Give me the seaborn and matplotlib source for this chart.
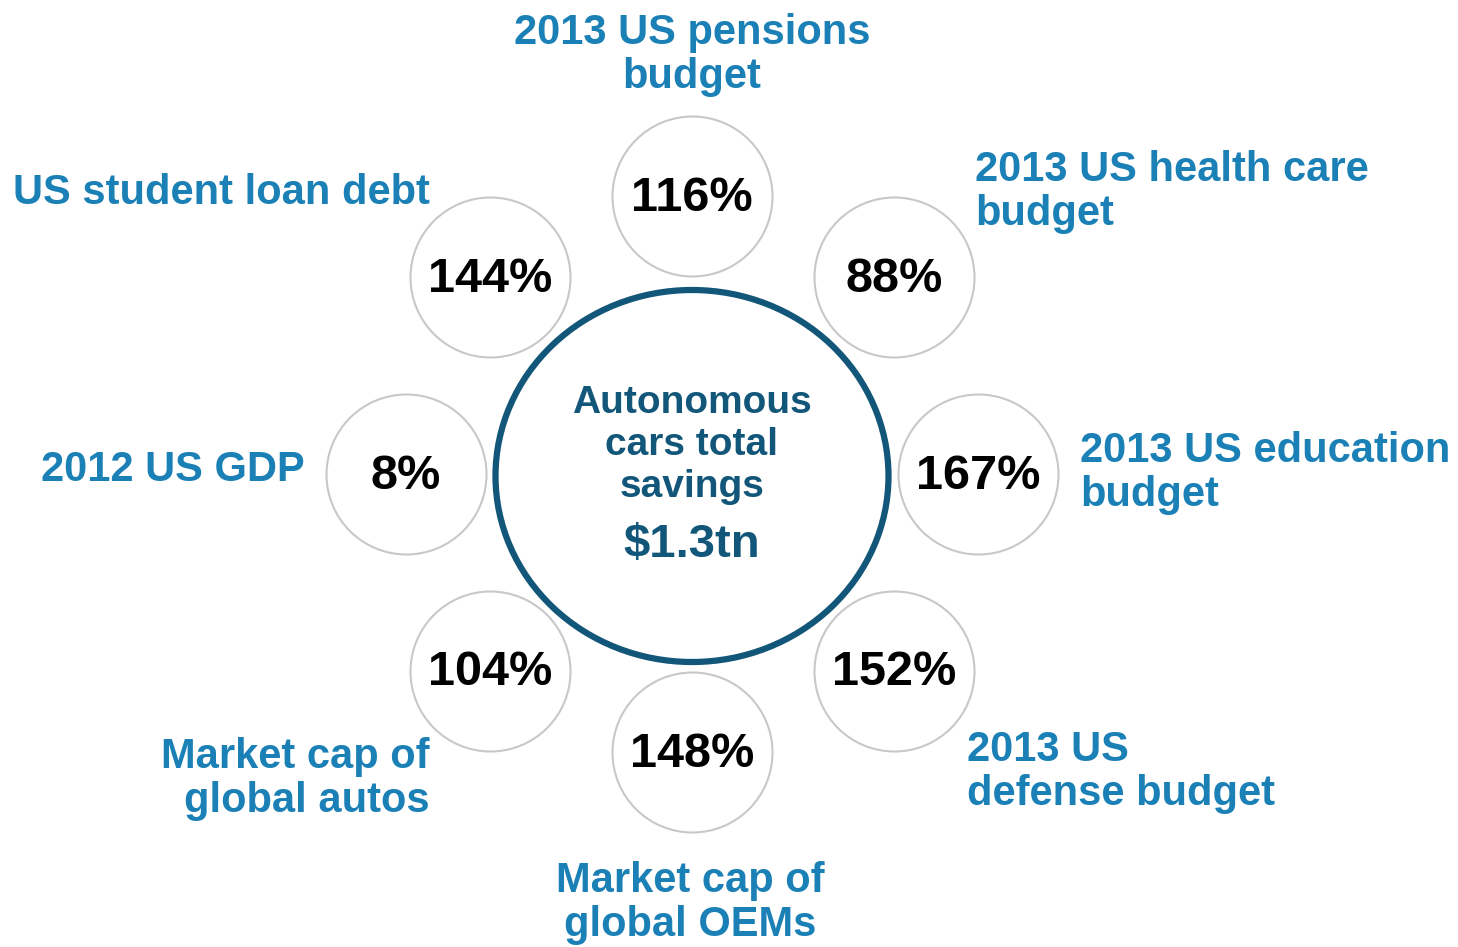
import numpy as np
import pandas as pd
import matplotlib
matplotlib.use("Agg")
import matplotlib.pyplot as plt
import seaborn as sns
from matplotlib.patches import Ellipse

# ---- data ----
categories = [
    "2013 US pensions\nbudget",
    "2013 US health care\nbudget",
    "2013 US education\nbudget",
    "2013 US\ndefense budget",
    "Market cap of\nglobal OEMs",
    "Market cap of\nglobal autos",
    "2012 US GDP",
    "US student loan debt",
]
percentages = [116, 88, 167, 152, 148, 104, 8, 144]
center_title = "Autonomous\ncars total\nsavings"
total_savings_tn = 1.3

# ---- style ----
sns.set_theme(style="white")
plt.rcParams["font.family"] = ["Liberation Sans", "DejaVu Sans"]
LABEL_COLOR = "#1a80b6"
CENTER_COLOR = "#12567a"
RING_COLOR = "#c8c8c8"

W, H = 1458, 947
fig = plt.figure(figsize=(W / 100, H / 100), dpi=100)
ax = fig.add_axes([0, 0, 1, 1])
ax.set_xlim(0, W)
ax.set_ylim(H, 0)
ax.set_axis_off()

cx, cy = 692, 476
ring_cy = 474
rx, ry = 286, 278
angles = np.deg2rad(90 - 45 * np.arange(len(percentages)))
df = pd.DataFrame({
    "label": categories,
    "pct": percentages,
    "x": cx + rx * np.cos(angles),
    "y": ring_cy - ry * np.sin(angles),
})

# small circles through seaborn scatter (diameter 160 px)
d_pt = 160 * 72 / 100
sns.scatterplot(data=df, x="x", y="y", s=d_pt ** 2, marker="o",
                color="white", edgecolor=RING_COLOR, linewidth=1.5,
                ax=ax, legend=False, zorder=2)
for _, r in df.iterrows():
    ax.text(r["x"], r["y"] + 2, f"{r['pct']}%", ha="center", va="center",
            fontsize=35, fontweight="bold", color="black", zorder=3)

# center ellipse
ax.add_patch(Ellipse((cx, cy), 393, 372, facecolor="white",
                     edgecolor=CENTER_COLOR, linewidth=4.5, zorder=2))
ax.text(cx, 445, center_title, ha="center", va="center", fontsize=28,
        fontweight="bold", color=CENTER_COLOR, linespacing=1.22, zorder=3)
ax.text(cx, 545, f"${total_savings_tn}tn", ha="center", va="center",
        fontsize=34, fontweight="bold", color=CENTER_COLOR, zorder=3)

# outer labels: (x, y, ha)
label_pos = [
    (692, 55, "center"),
    (975, 192, "left"),
    (1080, 473, "left"),
    (967, 772, "left"),
    (690, 903, "center"),
    (430, 779, "right"),
    (305, 470, "right"),
    (430, 193, "right"),
]
for lab, (lx, ly, ha) in zip(categories, label_pos):
    ax.text(lx, ly, lab, ha=ha, va="center", fontsize=30, fontweight="bold",
            color=LABEL_COLOR, linespacing=1.1, zorder=3)

fig.savefig("out.png", dpi=100, facecolor="white")
